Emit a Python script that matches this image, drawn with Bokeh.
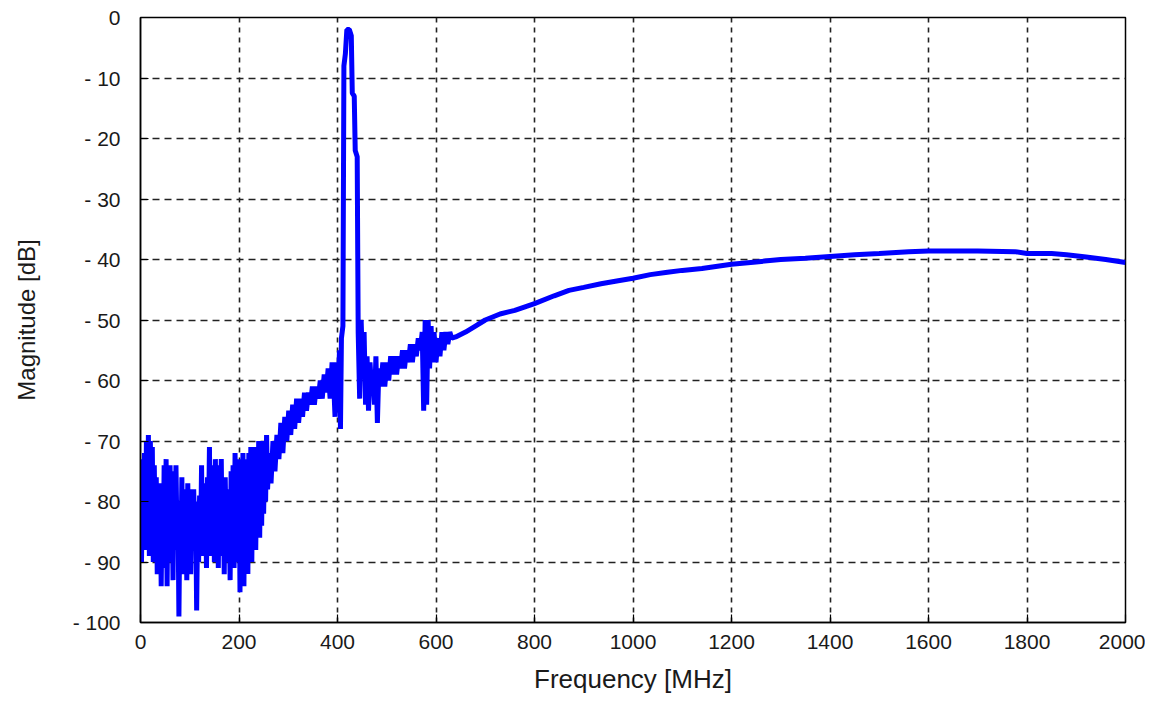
from bokeh.plotting import figure
from bokeh.models import Range1d, FixedTicker, CustomJSTickFormatter
from bokeh.embed import file_html
from bokeh.resources import INLINE

# ---- data ----
# noisy floor 0-258 MHz, sampled every 2 MHz
freq_noise = list(range(0, 260, 2))
mag_noise = [-73, -90, -78, -86, -72, -88, -70, -84, -69, -89, -70, -82, -71, -90, -74, -87,
             -76, -92, -78, -88, -77, -94, -80, -91, -74, -87, -73, -94, -76, -90, -74, -86,
             -77, -93, -75, -88, -74, -85, -80, -99, -82, -90, -76, -92, -78, -86, -79, -93,
             -77, -89, -78, -92, -81, -88, -78, -85, -80, -98, -83, -90, -79, -87, -74, -89,
             -77, -85, -80, -91, -76, -84, -71, -89, -75, -86, -74, -90, -73, -85, -76, -91,
             -74, -87, -73, -89, -77, -92, -76, -86, -78, -90, -80, -93, -75, -88, -74, -91,
             -72, -86, -76, -90, -73, -95, -75, -89, -72, -94, -73, -87, -74, -92, -72, -88,
             -71, -90, -73, -85, -71, -88, -74, -83, -70, -86, -71, -84, -70, -82, -72, -80, -69, -78]

freq_rise = [261, 265, 269, 273, 277, 281, 285, 289, 293, 297, 301, 305, 309, 313, 317, 321, 325, 329, 333, 337,
             341, 345, 349, 353, 357, 361, 365, 369, 373, 377, 381, 385, 389, 392, 395, 398, 401, 404, 406, 408, 411]
mag_rise = [-72, -77, -70, -75, -69, -73, -67, -72, -66, -70, -65, -69, -64, -68, -63, -67, -63, -66, -62, -65,
            -62, -64, -61, -64, -61, -63, -60, -63, -59, -62, -58, -63, -57, -60, -66, -57, -63, -55, -68, -53, -51]

freq_peak = [413, 416, 419, 424, 428, 430, 434, 436, 440, 442]
mag_peak = [-8, -6, -2, -2, -3, -12.5, -13, -22, -23, -52]

freq_mid = [445, 448, 451, 454, 457, 460, 463, 466, 469, 472, 475, 478, 481, 484, 488, 492, 496, 500, 504, 508,
            512, 516, 520, 524, 528, 532, 536, 540, 544, 548, 552, 556, 560, 564, 568, 572, 575, 578, 581, 584,
            587, 590, 593, 596, 600, 604, 608, 612, 616, 620, 624, 628, 632]
mag_mid = [-63, -50, -58, -52, -64, -56, -65, -57, -61, -59, -64, -56, -67, -58, -61, -57, -61, -57, -60, -56,
           -59, -56, -59, -56, -58, -55, -58, -55, -57, -54, -57, -54, -56, -53, -55, -52, -65, -50, -64, -50,
           -58, -51, -57, -52, -57, -53, -56, -52, -55, -52, -54, -52, -53]

freq_smooth = [640, 660, 680, 700, 730, 760, 800, 840, 870, 900, 935, 970, 1000, 1035, 1070, 1100, 1140, 1200,
               1250, 1300, 1350, 1400, 1450, 1500, 1560, 1600, 1650, 1700, 1775, 1800, 1850, 1880, 1920, 1960, 2000]
mag_smooth = [-52.8, -52, -51, -50, -49, -48.4, -47.3, -46, -45.1, -44.6, -44, -43.5, -43.1, -42.5, -42.1, -41.8,
              -41.5, -40.8, -40.4, -40, -39.8, -39.5, -39.2, -39, -38.7, -38.6, -38.6, -38.6, -38.7, -39, -39,
              -39.2, -39.6, -40, -40.5]

x_ticks = [0, 200, 400, 600, 800, 1000, 1200, 1400, 1600, 1800, 2000]
y_ticks = [-100, -90, -80, -70, -60, -50, -40, -30, -20, -10, 0]

freq = freq_noise + freq_rise + freq_peak + freq_mid + freq_smooth
mag = mag_noise + mag_rise + mag_peak + mag_mid + mag_smooth

FONT = "Liberation Sans"

p = figure(width=1145, height=700, output_backend="svg", toolbar_location=None,
           x_range=Range1d(0, 2000), y_range=Range1d(-100, 0),
           min_border_left=140, min_border_right=20, min_border_top=17, min_border_bottom=78,
           background_fill_color="white", border_fill_color="white")

p.line(freq, mag, line_color="#0000FF", line_width=5, line_join="bevel")

p.outline_line_color = "black"
p.outline_line_width = 1.5
p.outline_line_alpha = 1

for ax in (p.xaxis, p.yaxis):
    ax.axis_line_color = "black"
    ax.axis_line_width = 1.5
    ax.major_tick_line_color = "black"
    ax.major_tick_line_width = 1.2
    ax.major_tick_in = 8
    ax.major_tick_out = 0
    ax.minor_tick_line_color = None
    ax.major_label_text_font = FONT
    ax.major_label_text_font_size = "21px"
    ax.major_label_text_color = "#1a1a1a"
    ax.axis_label_text_font = FONT
    ax.axis_label_text_font_style = "normal"
    ax.axis_label_text_color = "#1a1a1a"

p.xaxis.ticker = FixedTicker(ticks=x_ticks)
p.yaxis.ticker = FixedTicker(ticks=y_ticks)
p.yaxis.formatter = CustomJSTickFormatter(code="return tick < 0 ? '- ' + Math.abs(tick) : String(tick);")

p.xaxis.axis_label = "Frequency [MHz]"
p.yaxis.axis_label = "Magnitude [dB]"
p.xaxis.axis_label_text_font_size = "26px"
p.yaxis.axis_label_text_font_size = "24px"
p.xaxis.major_label_standoff = 12
p.yaxis.major_label_standoff = 20
p.xaxis.axis_label_standoff = 12
p.yaxis.axis_label_standoff = 30

for g, dash in ((p.xgrid, "5 5"), (p.ygrid, "7 5")):
    g.grid_line_color = "#222222"
    g.grid_line_width = 1.6
    g.grid_line_dash = dash
    g.grid_line_alpha = 1
p.xgrid.ticker = FixedTicker(ticks=x_ticks)
p.ygrid.ticker = FixedTicker(ticks=y_ticks)

open("out.html", "w").write(file_html(p, INLINE))
